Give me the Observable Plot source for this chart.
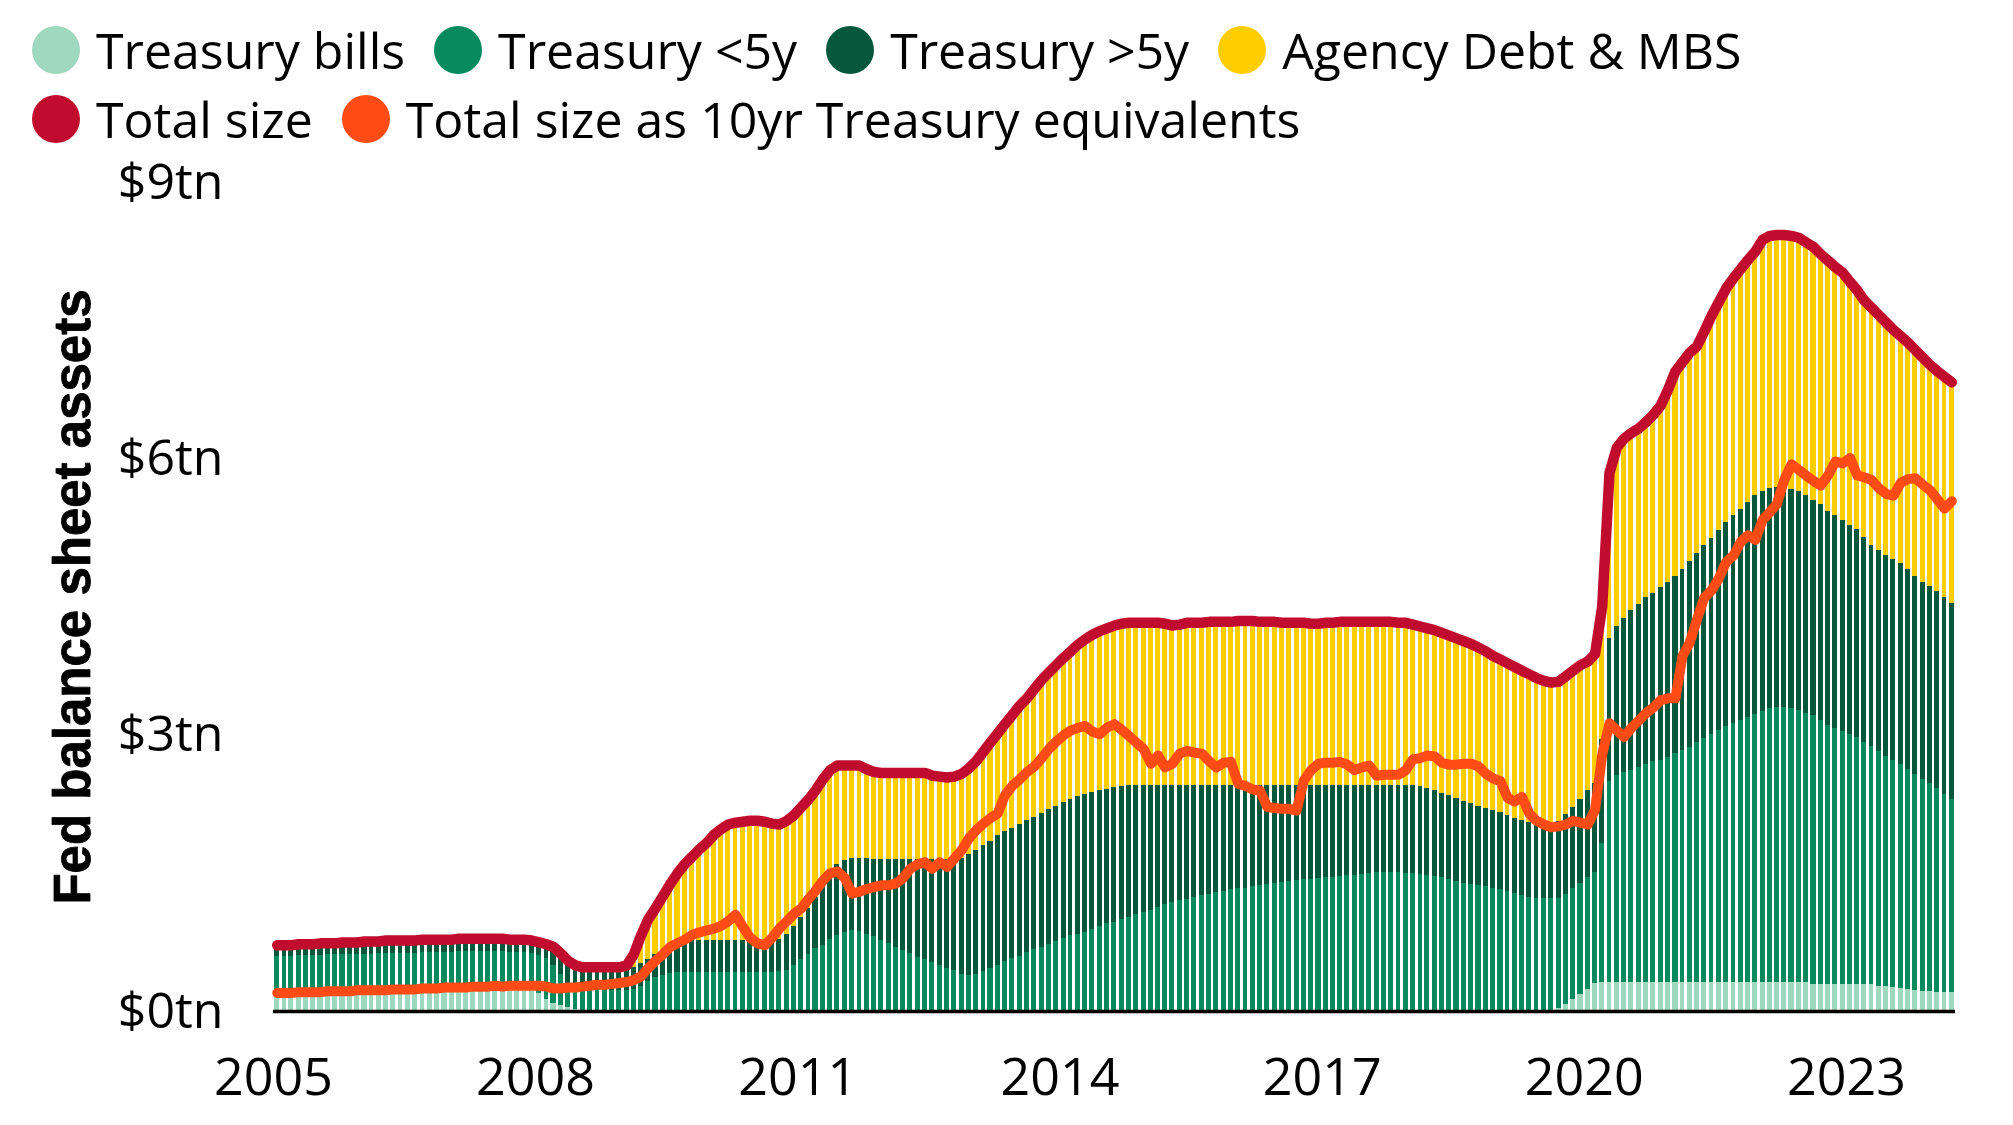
<!DOCTYPE html>
<html><head><meta charset="utf-8">
<script src="https://cdn.jsdelivr.net/npm/d3@7"></script>
<script src="https://cdn.jsdelivr.net/npm/@observablehq/plot@0.6"></script>
<style>
html,body{margin:0;padding:0;background:#fff;}
#wrap{position:relative;width:2013px;height:1125px;font-family:"Open Sans",sans-serif;overflow:hidden;}
#chart{position:absolute;left:0;top:0;}
#legend{position:absolute;left:32px;top:26px;}
.row{display:flex;align-items:center;height:48px;margin-bottom:21px;white-space:nowrap;}
.item{display:flex;align-items:center;margin-right:29px;}
.sw{width:48px;height:48px;border-radius:50%;margin-right:16px;flex:none;}
.lab{font-size:50px;line-height:46px;color:#000;}
</style></head>
<body><div id="wrap"><div id="chart"></div><div id="legend"></div></div>
<script>
// Monthly, Jan 2005 – Mar 2024, $ trillions
const seriesNames = ["Treasury bills", "Treasury <5y", "Treasury >5y", "Agency Debt & MBS"];
const seriesColors = ["#9dd8bf", "#078b5e", "#05583b", "#ffcd00"];
const lineNames = ["Total size", "Total size as 10yr Treasury equivalents"];
const lineColors = ["#c00d2e", "#ff4c16"];
const yTicks = [0, 3, 6, 9];
const xTickYears = [2005, 2008, 2011, 2014, 2017, 2020, 2023];
const yTitle = "Fed balance sheet assets";

const treasuryBills = [
 .19,.19,.19,.20,.20,.20,.20,.21,.21,.21,.21,.21,
 .22,.22,.22,.22,.22,.23,.23,.23,.23,.23,.24,.24,
 .24,.24,.25,.25,.25,.25,.26,.26,.26,.26,.25,.24,
 .20,.13,.09,.06,.04,.02,0,0,0,0,0,0,
 0,0,0,0,0,0,0,0,0,0,0,0,
 0,0,0,0,0,0,0,0,0,0,0,0,
 0,0,0,0,0,0,0,0,0,0,0,0,
 0,0,0,0,0,0,0,0,0,0,0,0,
 0,0,0,0,0,0,0,0,0,0,0,0,
 0,0,0,0,0,0,0,0,0,0,0,0,
 0,0,0,0,0,0,0,0,0,0,0,0,
 0,0,0,0,0,0,0,0,0,0,0,0,
 0,0,0,0,0,0,0,0,0,0,0,0,
 0,0,0,0,0,0,0,0,0,0,0,0,
 0,0,0,0,0,0,0,0,.03,.08,.13,.18,
 .24,.30,.32,.32,.32,.32,.32,.32,.32,.32,.32,.32,
 .32,.32,.32,.32,.32,.32,.32,.32,.32,.32,.32,.32,
 .32,.32,.32,.32,.32,.32,.32,.29,.29,.29,.29,.29,
 .29,.29,.29,.29,.27,.27,.26,.25,.24,.23,.22,.22,
 .21,.21,.21
];
const treasuryUnder5y = [
 .41,.41,.41,.41,.41,.41,.41,.41,.41,.41,.41,.41,
 .40,.40,.41,.41,.41,.40,.40,.40,.41,.41,.40,.40,
 .40,.41,.40,.40,.40,.40,.39,.39,.38,.38,.39,.39,
 .41,.44,.41,.34,.26,.24,.24,.23,.23,.23,.23,.23,
 .23,.24,.27,.33,.37,.39,.41,.42,.42,.42,.42,.42,
 .42,.42,.42,.42,.42,.42,.42,.42,.42,.43,.45,.50,
 .56,.62,.68,.72,.78,.83,.86,.88,.87,.84,.81,.77,
 .74,.70,.66,.63,.59,.56,.53,.50,.47,.44,.40,.39,
 .40,.43,.47,.50,.54,.57,.60,.64,.67,.70,.73,.76,
 .79,.82,.84,.86,.89,.92,.95,.97,1.00,1.02,1.05,1.07,
 1.10,1.13,1.16,1.18,1.20,1.22,1.24,1.26,1.27,1.29,1.30,1.32,
 1.33,1.34,1.36,1.37,1.38,1.39,1.40,1.41,1.42,1.43,1.43,1.44,
 1.45,1.46,1.47,1.48,1.48,1.49,1.50,1.51,1.51,1.51,1.51,1.50,
 1.50,1.49,1.48,1.47,1.45,1.43,1.41,1.39,1.38,1.37,1.36,1.34,
 1.32,1.30,1.28,1.26,1.24,1.23,1.23,1.23,1.20,1.19,1.20,1.21,
 1.21,1.21,1.50,2.18,2.24,2.27,2.30,2.33,2.36,2.39,2.41,2.44,
 2.48,2.51,2.55,2.60,2.64,2.69,2.73,2.77,2.81,2.84,2.87,2.90,
 2.94,2.97,2.98,2.98,2.97,2.95,2.92,2.92,2.87,2.82,2.78,2.75,
 2.72,2.68,2.63,2.59,2.55,2.50,2.46,2.43,2.39,2.34,2.30,2.25,
 2.21,2.15,2.09
];
const treasuryOver5y = [
 .12,.12,.12,.12,.12,.12,.13,.12,.12,.13,.13,.13,
 .14,.14,.13,.14,.14,.14,.14,.14,.14,.14,.14,.14,
 .14,.14,.14,.14,.14,.14,.14,.14,.14,.14,.14,.14,
 .14,.16,.20,.23,.25,.24,.24,.25,.25,.25,.25,.25,
 .25,.24,.25,.23,.25,.27,.29,.31,.34,.35,.35,.35,
 .35,.35,.35,.35,.35,.35,.35,.35,.35,.35,.39,.42,
 .46,.50,.56,.64,.70,.77,.78,.78,.79,.82,.84,.88,
 .91,.95,.99,1.02,1.06,1.09,1.12,1.15,1.18,1.21,1.26,1.31,
 1.35,1.37,1.38,1.41,1.41,1.42,1.43,1.43,1.44,1.45,1.46,1.47,
 1.48,1.48,1.49,1.50,1.49,1.48,1.46,1.46,1.44,1.43,1.40,1.38,
 1.35,1.32,1.29,1.27,1.25,1.23,1.21,1.19,1.18,1.16,1.15,1.13,
 1.12,1.11,1.09,1.08,1.07,1.06,1.05,1.04,1.03,1.02,1.02,1.01,
 1.00,.99,.98,.97,.97,.96,.95,.94,.94,.94,.94,.95,
 .95,.95,.94,.93,.92,.91,.90,.89,.88,.86,.84,.84,
 .84,.83,.82,.81,.81,.80,.79,.79,.83,.87,.89,.91,
 .95,.97,1.13,1.55,1.62,1.68,1.73,1.77,1.81,1.83,1.87,1.90,
 1.92,1.97,2.02,2.05,2.10,2.13,2.17,2.22,2.25,2.29,2.34,2.38,
 2.39,2.39,2.39,2.39,2.38,2.37,2.36,2.34,2.34,2.32,2.31,2.29,
 2.27,2.26,2.23,2.18,2.18,2.18,2.19,2.18,2.17,2.15,2.14,2.14,
 2.14,2.14,2.13
];
const agencyDebtMbs = [
 0,0,0,0,0,0,0,0,0,0,0,0,
 0,0,0,0,0,0,0,0,0,0,0,0,
 0,0,0,0,0,0,0,0,0,0,0,0,
 0,0,0,0,0,0,0,0,0,0,0,0,
 .02,.14,.30,.44,.50,.59,.68,.77,.84,.91,.99,1.06,
 1.15,1.21,1.26,1.28,1.29,1.30,1.30,1.29,1.27,1.25,1.23,1.21,
 1.20,1.18,1.16,1.16,1.14,1.07,1.03,1.01,1.01,.97,.95,.94,
 .94,.94,.94,.94,.94,.94,.91,.90,.89,.90,.92,.94,
 .97,1.02,1.07,1.11,1.17,1.23,1.29,1.33,1.39,1.45,1.49,1.53,
 1.57,1.61,1.65,1.68,1.71,1.73,1.75,1.76,1.77,1.77,1.77,1.77,
 1.77,1.77,1.76,1.74,1.75,1.77,1.77,1.77,1.78,1.78,1.78,1.78,
 1.79,1.79,1.79,1.78,1.78,1.78,1.77,1.77,1.77,1.77,1.76,1.76,
 1.77,1.77,1.78,1.78,1.78,1.78,1.78,1.78,1.78,1.78,1.77,1.77,
 1.75,1.74,1.74,1.74,1.74,1.74,1.74,1.74,1.73,1.72,1.71,1.68,
 1.66,1.65,1.64,1.63,1.61,1.59,1.57,1.55,1.52,1.50,1.48,1.46,
 1.40,1.40,1.45,1.80,1.94,1.95,1.93,1.91,1.91,1.94,1.98,2.09,
 2.23,2.25,2.26,2.25,2.32,2.41,2.48,2.54,2.58,2.61,2.63,2.65,
 2.73,2.74,2.74,2.74,2.75,2.76,2.75,2.75,2.72,2.72,2.70,2.69,
 2.64,2.60,2.57,2.58,2.56,2.53,2.49,2.47,2.46,2.46,2.44,2.41,
 2.39,2.39,2.40
];
const tenYearEquivalent = [
 .20,.20,.20,.21,.21,.21,.21,.22,.22,.22,.22,.23,
 .23,.23,.23,.23,.24,.24,.24,.24,.25,.25,.25,.26,
 .26,.26,.26,.27,.27,.27,.28,.27,.28,.28,.28,.28,
 .28,.27,.25,.25,.26,.26,.27,.28,.29,.29,.30,.31,
 .32,.34,.38,.47,.55,.62,.70,.74,.78,.83,.86,.88,
 .90,.93,.98,1.05,.92,.80,.74,.72,.80,.90,.98,1.06,
 1.12,1.22,1.31,1.42,1.50,1.52,1.45,1.28,1.30,1.33,1.35,1.37,
 1.37,1.39,1.45,1.55,1.60,1.62,1.55,1.62,1.57,1.66,1.75,1.88,
 1.97,2.04,2.10,2.15,2.35,2.45,2.52,2.60,2.66,2.75,2.85,2.93,
 3.00,3.05,3.08,3.10,3.04,3.01,3.08,3.12,3.06,2.99,2.92,2.85,
 2.69,2.78,2.65,2.69,2.80,2.83,2.81,2.80,2.72,2.65,2.70,2.71,
 2.47,2.45,2.41,2.40,2.22,2.21,2.20,2.20,2.18,2.51,2.62,2.69,
 2.70,2.70,2.71,2.68,2.62,2.65,2.67,2.56,2.57,2.57,2.57,2.62,
 2.74,2.75,2.78,2.77,2.70,2.68,2.68,2.69,2.69,2.66,2.58,2.53,
 2.50,2.32,2.28,2.33,2.15,2.07,2.03,2.00,2.01,2.03,2.07,2.05,
 2.03,2.19,2.79,3.13,3.05,2.98,3.08,3.16,3.24,3.30,3.38,3.40,
 3.40,3.86,4.00,4.25,4.49,4.57,4.70,4.88,4.95,5.10,5.17,5.12,
 5.34,5.42,5.51,5.77,5.94,5.88,5.82,5.76,5.71,5.82,5.97,5.95,
 6.01,5.82,5.80,5.77,5.68,5.62,5.60,5.74,5.78,5.79,5.72,5.66,
 5.56,5.46,5.54
];

const seriesValues = [treasuryBills, treasuryUnder5y, treasuryOver5y, agencyDebtMbs];
const start = new Date(Date.UTC(2005, 0, 1));
const end = new Date(Date.UTC(2024, 3, 1));
const months = d3.utcMonths(start, end);

const rows = [];
months.forEach((d, i) => {
  const e = d3.utcMonth.offset(d, 1);
  seriesNames.forEach((s, k) => rows.push({date: d, end: e, series: s, value: seriesValues[k][i]}));
});
const lineRows = months.map((d, i) => {
  const e = d3.utcMonth.offset(d, 1);
  return {
    mid: new Date((d.getTime() + e.getTime()) / 2),
    total: seriesValues.reduce((a, arr) => a + arr[i], 0),
    tenYear: tenYearEquivalent[i]
  };
});

const chart = Plot.plot({
  width: 2013, height: 1125,
  marginTop: 182, marginBottom: 114, marginLeft: 273, marginRight: 58,
  style: {fontFamily: '"Open Sans", sans-serif', fontSize: "50px", color: "#000", background: "transparent", overflow: "visible"},
  x: {type: "utc", domain: [start, end]},
  y: {domain: [0, 9]},
  color: {domain: seriesNames, range: seriesColors},
  marks: [
    Plot.rectY(rows, {x1: "date", x2: "end", y: "value", z: "series", fill: "series", order: seriesNames,
      insetLeft: 1.15, insetRight: 1.15, shapeRendering: "crispEdges"}),
    Plot.ruleY([0], {stroke: "#000", strokeWidth: 3.5}),
    Plot.lineY(lineRows, {x: "mid", y: "total", stroke: lineColors[0], strokeWidth: 10.5, strokeLinejoin: "round", strokeLinecap: "round"}),
    Plot.lineY(lineRows, {x: "mid", y: "tenYear", stroke: lineColors[1], strokeWidth: 10, strokeLinejoin: "round", strokeLinecap: "round"}),
    Plot.axisX({ticks: xTickYears.map(y => new Date(Date.UTC(y, 0, 1))), tickFormat: d3.utcFormat("%Y"),
      tickSize: 0, tickPadding: 47, fontSize: 52, label: null}),
    Plot.axisY({ticks: yTicks, tickFormat: d => `$${d}tn`, tickSize: 0, tickPadding: 50, fontSize: 50, label: null}),
    Plot.text([yTitle], {frameAnchor: "left", dx: -200, rotate: -90, textAnchor: "middle", lineAnchor: "middle",
      fontWeight: "bold", fontSize: 51,
      fontFamily: '"Liberation Sans", Arial, sans-serif', fill: "#000", stroke: "#000", strokeWidth: 0.8})
  ]
});
document.getElementById("chart").appendChild(chart);

// Legend
const legendRows = [
  [[seriesNames[0], seriesColors[0]], [seriesNames[1], seriesColors[1]], [seriesNames[2], seriesColors[2]], [seriesNames[3], seriesColors[3]]],
  [[lineNames[0], lineColors[0]], [lineNames[1], lineColors[1]]]
];
const legend = document.getElementById("legend");
legendRows.forEach(r => {
  const row = document.createElement("div");
  row.className = "row";
  r.forEach(([name, color]) => {
    const item = document.createElement("div");
    item.className = "item";
    const sw = document.createElement("span");
    sw.className = "sw";
    sw.style.background = color;
    const lab = document.createElement("span");
    lab.className = "lab";
    lab.textContent = name;
    item.appendChild(sw);
    item.appendChild(lab);
    row.appendChild(item);
  });
  legend.appendChild(row);
});
</script></body></html>
